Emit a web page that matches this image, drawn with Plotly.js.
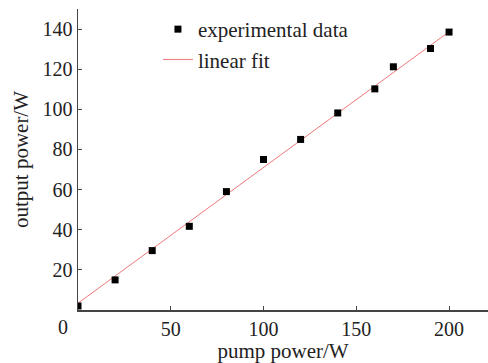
<!DOCTYPE html>
<html>
<head>
<meta charset="utf-8">
<script src="https://cdn.plot.ly/plotly-3.0.1.min.js"></script>
<style>
html,body{margin:0;padding:0;background:#fff;}
#chart{width:488px;height:363px;}
</style>
</head>
<body>
<div id="chart"></div>
<script>
const pumpPower = [0, 20, 40, 60, 80, 100, 120, 140, 160, 170, 190, 200];
const outputPower = [2, 15, 29.6, 41.7, 59, 75, 85, 98.2, 110.2, 121.2, 130.3, 138.5];
const fitX = [0, 202];
const fitY = [3.4, 140];
const xTickVals = [50, 100, 150, 200];
const xTickText = ['50', '100', '150', '200'];
const yTickVals = [20, 40, 60, 80, 100, 120, 140];
const yTickText = ['20', '40', '60', '80', '100', '120', '140'];

const fam = 'Liberation Serif, Times New Roman, serif';
const fs = 21;
const font = {family: fam, size: fs, color: '#222'};

const traces = [
  {x: fitX, y: fitY, type: 'scatter', mode: 'lines', name: 'linear fit',
   line: {color: '#ee7777', width: 1}, legendrank: 2},
  {x: pumpPower, y: outputPower, type: 'scatter', mode: 'markers', name: 'experimental data',
   marker: {symbol: 'square', size: 7, color: '#000'}, legendrank: 1}
];

const layout = {
  width: 488, height: 363,
  margin: {l: 78, r: 0, t: 9, b: 53, pad: 0},
  paper_bgcolor: '#fff', plot_bgcolor: '#fff',
  font: font,
  showlegend: true,
  legend: {x: 0.195, y: 1.0, xanchor: 'left', yanchor: 'top', bgcolor: 'rgba(0,0,0,0)',
           font: {family: fam, size: fs, color: '#222'}},
  xaxis: {range: [0, 221], showgrid: false, zeroline: false, showline: true, linecolor: '#444', linewidth: 1.5,
          ticks: 'inside', ticklen: 4, tickwidth: 1, tickcolor: '#444',
          tickvals: xTickVals, ticktext: xTickText, tickfont: {family: fam, size: 20, color: '#222'},
          title: {text: 'pump power/W', font: {family: fam, size: fs, color: '#222'}, standoff: 3}},
  yaxis: {range: [0, 150], showgrid: false, zeroline: false, showline: true, linecolor: '#444', linewidth: 1.5,
          ticks: 'inside', ticklen: 4, tickwidth: 1, tickcolor: '#444',
          tickvals: yTickVals, ticktext: yTickText, tickfont: {family: fam, size: 20, color: '#222'},
          title: {text: 'output power/W', font: {family: fam, size: fs, color: '#222'}, standoff: 8}},
  annotations: [{xref: 'paper', yref: 'paper', x: 0, y: 0, xanchor: 'right', yanchor: 'top',
                 xshift: -8, yshift: -4, text: '0', showarrow: false, font: {family: fam, size: 20, color: '#222'}}]
};

Plotly.newPlot('chart', traces, layout, {displayModeBar: false, staticPlot: true});
</script>
</body>
</html>
